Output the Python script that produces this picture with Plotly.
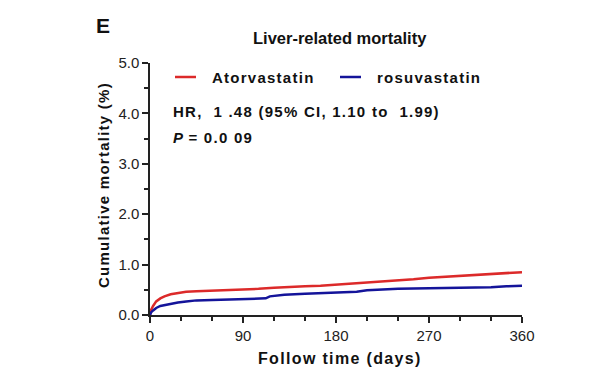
import plotly.graph_objects as go

# Data
ator_days = [0, 1, 3, 6, 10, 14, 20, 27, 35, 45, 60, 75, 90, 105, 120, 135, 150, 165, 180,
             195, 210, 225, 240, 255, 270, 285, 300, 315, 330, 345, 360]
ator_vals = [0, 0.10, 0.18, 0.27, 0.33, 0.37, 0.41, 0.44, 0.46, 0.47, 0.48, 0.49, 0.50, 0.52,
             0.54, 0.56, 0.57, 0.58, 0.60, 0.62, 0.65, 0.67, 0.69, 0.71, 0.74, 0.76, 0.78,
             0.79, 0.81, 0.83, 0.85]
rosu_days = [0, 1, 3, 6, 10, 14, 20, 27, 35, 45, 60, 75, 90, 105, 112, 116, 130, 150, 180,
             200, 210, 225, 240, 270, 300, 330, 345, 360]
rosu_vals = [0, 0.05, 0.09, 0.14, 0.18, 0.20, 0.22, 0.25, 0.27, 0.29, 0.30, 0.31, 0.31, 0.32,
             0.33, 0.37, 0.40, 0.42, 0.44, 0.46, 0.49, 0.51, 0.52, 0.53, 0.54, 0.55, 0.57, 0.58]
x_ticks = [0, 90, 180, 270, 360]
y_ticks = [0, 1, 2, 3, 4, 5]
y_labels = ["0.0", "1.0", "2.0", "3.0", "4.0", "5.0"]

RED = "#dc2a2a"
BLUE = "#14149a"
FONT = "Liberation Sans, Arial, sans-serif"

fig = go.Figure()
fig.add_trace(go.Scatter(x=ator_days, y=ator_vals, mode="lines",
                         line=dict(color=RED, width=2.5), name="Atorvastatin"))
fig.add_trace(go.Scatter(x=rosu_days, y=rosu_vals, mode="lines",
                         line=dict(color=BLUE, width=2.5), name="rosuvastatin"))

axis_common = dict(showgrid=False, zeroline=False, showline=True, linecolor="#222",
                   linewidth=1.5, ticks="outside", ticklen=6, tickwidth=1.5,
                   tickcolor="#222", tickfont=dict(family=FONT, size=15, color="#222"))

fig.update_xaxes(range=[0, 360], tickvals=x_ticks, ticktext=[str(v) for v in x_ticks],
                 minor=dict(dtick=30, ticks="outside", ticklen=4, tickwidth=1.5,
                            tickcolor="#222"), **axis_common)
fig.update_yaxes(range=[0, 5], tickvals=y_ticks, ticktext=y_labels,
                 minor=dict(dtick=0.5, ticks="outside", ticklen=4, tickwidth=1.5,
                            tickcolor="#222"), **axis_common)


def font(size):
    return dict(family=FONT, size=size, color="#111")


def spaced(s):
    return "&#8202;".join(list(s))


def pa(px, py):
    return (px - 142) / 372, (307 - py) / 252


ann = []
x, y = pa(86, 17)
ann.append(dict(text="<b>E</b>", x=x, y=y, xanchor="left", yanchor="middle", font=font(21)))
x, y = pa(332, 30)
ann.append(dict(text="<b>Liver-related mortality</b>", x=x, y=y, xanchor="center",
                yanchor="middle", font=font(16.5)))
x, y = pa(202, 69)
ann.append(dict(text="<b>" + spaced("Atorvastatin") + "</b>", x=x, y=y,
                xanchor="left", yanchor="middle", font=font(15)))
x, y = pa(367, 69)
ann.append(dict(text="<b>" + spaced("rosuvastatin") + "</b>", x=x, y=y,
                xanchor="left", yanchor="middle", font=font(15)))
x, y = pa(163, 103)
ann.append(dict(text="<b>" + spaced("HR,  1 .48 (95% CI, 1.10 to  1.99)") + "</b>", x=x, y=y,
                xanchor="left", yanchor="middle", font=font(15)))
x, y = pa(163, 129)
ann.append(dict(text="<b><i>P</i>" + spaced(" = 0.0 09") + "</b>", x=x, y=y,
                xanchor="left", yanchor="middle", font=font(15)))
x, y = pa(95, 178)
ann.append(dict(text="<b>" + spaced("Cumulative mortality (%)") + "</b>", x=x, y=y,
                textangle=-90, xanchor="center", yanchor="middle", font=font(15)))
x, y = pa(331, 350)
ann.append(dict(text="<b>" + spaced("Follow time (days)") + "</b>", x=x, y=y,
                xanchor="center", yanchor="middle", font=font(16)))
for a in ann:
    a.update(xref="paper", yref="paper", showarrow=False)

shapes = []
for (x0, x1, c) in [(167, 188, RED), (332, 353, BLUE)]:
    a0, yy = pa(x0, 69)
    a1, _ = pa(x1, 69)
    shapes.append(dict(type="line", xref="paper", yref="paper", x0=a0, x1=a1, y0=yy, y1=yy,
                       line=dict(color=c, width=2.5)))

fig.update_layout(width=602, height=367, margin=dict(l=142, r=88, t=55, b=60),
                  paper_bgcolor="white", plot_bgcolor="white", showlegend=False,
                  annotations=ann, shapes=shapes, font=dict(family=FONT))
fig.write_html("out.html")
